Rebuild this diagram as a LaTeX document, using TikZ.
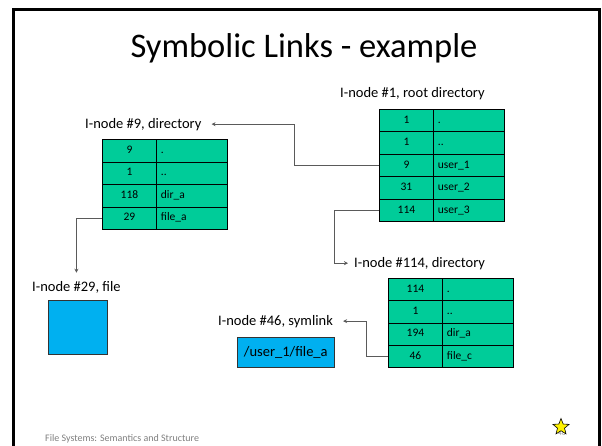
\documentclass[tikz,border=0pt]{standalone}
\usepackage{fontspec}
\setmainfont{Carlito}
\usetikzlibrary{arrows.meta,shapes.geometric}

\definecolor{tablegreen}{RGB}{0,204,153}
\definecolor{fileblue}{RGB}{0,176,240}
\definecolor{connline}{RGB}{90,90,90}

\tikzset{
  cellbase/.style={draw=black, line width=0.9pt, fill=tablegreen, inner sep=0pt,
    anchor=north west, minimum height=#1, text height=8pt, text depth=2.5pt,
    font=\fontsize{11.5}{13}\selectfont},
  numcell/.style={cellbase=#1, minimum width=54pt, align=center},
  namecell/.style={cellbase=#1, text width=62pt, inner xsep=4.5pt, minimum width=71pt, align=left},
  caption/.style={inner sep=0pt, font=\fontsize{14.5}{17}\selectfont},
  conn/.style={draw=connline, line width=0.9pt, -{Stealth[length=4pt,width=4pt]}},
  filebox/.style={draw=black!80, line width=0.6pt, fill=fileblue, inner sep=0pt, anchor=north west}
}

% one directory i-node: #1 name prefix, #2 left x, #3 top y, #4 row height, #5 list of num/entry
\newcommand{\dirtable}[5]{%
  \foreach \num/\entry [count=\i] in {#5}{%
    \node[numcell=#4] (#1-n\i) at (#2, #3 + #4*\i - #4) {\num};
    \node[namecell=#4] (#1-e\i) at (#2 + 54, #3 + #4*\i - #4) {\entry};
  }%
}

\begin{document}
\begin{tikzpicture}[x=1pt,y=-1pt]
\useasboundingbox (0,0) rectangle (602,445);
\fill[white] (0,0) rectangle (602,445);

% slide frame
\draw[line width=3pt] (13.5,446) -- (13.5,9.5) -- (599.5,9.5) -- (599.5,446);

% title
\node[anchor=base, inner sep=0pt, font=\fontsize{34.5}{40}\selectfont] (title) at (304,57) {Symbolic Links - example};

% root directory
\node[caption, anchor=base west] (l1) at (340,97) {I-node \#1, root directory};
\dirtable{root}{379}{109}{22.4}{1/., 1/.., 9/user\_1, 31/user\_2, 114/user\_3}

% i-node 9
\node[caption, anchor=base west] (l9) at (85,128) {I-node \#9, directory};
\dirtable{dnine}{102}{139}{22.5}{9/., 1/.., 118/dir\_a, 29/file\_a}

% i-node 29
\node[caption, anchor=base west] (l29) at (32,291) {I-node \#29, file};
\node[filebox, minimum width=59pt, minimum height=54pt] (f29) at (48,300) {};

% i-node 114
\node[caption, anchor=base west] (l114) at (354,267) {I-node \#114, directory};
\dirtable{dtwo}{388}{278}{22.25}{114/., 1/.., 194/dir\_a, 46/file\_c}

% i-node 46
\node[caption, anchor=base west] (l46) at (218,325) {I-node \#46, symlink};
\node[filebox, minimum width=97pt, minimum height=30pt, font=\fontsize{14.5}{17}\selectfont] (f46) at (237,337) {/user\_1/file\_a};

% links between entries and i-nodes
\draw[conn, shorten >=10pt] (root-n3.west) -- ++(-85,0) |- (l9.east);
\draw[conn, shorten >=6pt] (root-n5.west) -- ++(-45,0) |- (l114.west);
\draw[conn, shorten >=8pt] (dnine-n4.west) -| (l29.north);
\draw[conn, shorten >=10pt] (dtwo-n4.west) -- ++(-22,0) |- (l46.east);

% footer
\node[anchor=base west, inner sep=0pt, text=black!50, font=\fontsize{10}{12}\selectfont] (foot) at (45,441) {File Systems: Semantics and Structure};
\node[inner sep=0pt, text=black!45, font=\fontsize{7}{8}\selectfont] (page) at (562,433) {46};
\node[star, star points=5, star point ratio=2.3, fill=yellow, draw=black, line width=0.6pt, minimum size=17pt, inner sep=0pt] (mark) at (561,427) {};
\end{tikzpicture}
\end{document}
